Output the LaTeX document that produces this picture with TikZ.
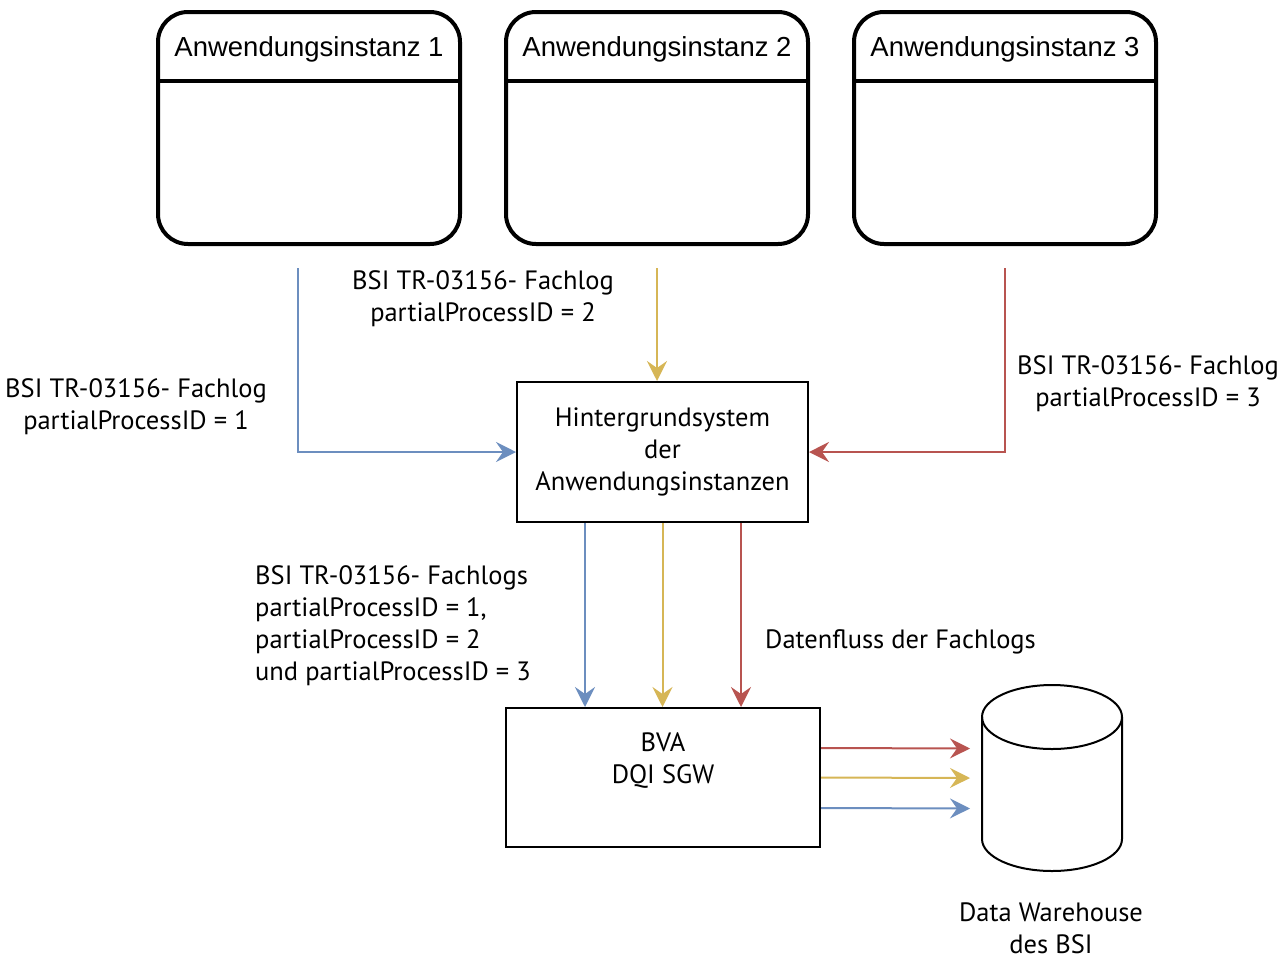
\documentclass[tikz,border=0pt]{standalone}
\usepackage{fontspec}
\setmainfont{PT Sans}
\newfontfamily\arialfont{Liberation Sans}
\usetikzlibrary{positioning}
\usetikzlibrary{arrows.meta}

\definecolor{flowblue}{HTML}{6C8EBF}
\definecolor{flowyellow}{HTML}{D6B656}
\definecolor{flowred}{HTML}{B85450}

\begin{document}
\begin{tikzpicture}
		[x=1pt, y=-1pt,
		 instance/.style={draw=black, line width=4pt, rounded corners=30pt, minimum width=302pt, minimum height=232pt},
		 insttitle/.style={font=\arialfont\fontsize{27.5}{32}\selectfont, inner sep=0pt},
		 system/.style={draw=black, line width=2pt, align=center, font=\fontsize{26.5}{32}\selectfont},
		 label/.style={align=center, font=\fontsize{26.5}{32}\selectfont, inner sep=0pt},
		 flow/.style={line width=2pt, -{Stealth[length=20pt, width=20pt, inset=7pt]}}]
		\useasboundingbox (0,0) rectangle (1285,959);

		\node[instance] (i1) at (309,128) {};
		\node[instance] (i2) at (657,128) {};
		\node[instance] (i3) at (1005,128) {};
		\node[insttitle] (t1) at (309,49) {Anwendungsinstanz 1};
		\node[insttitle] (t2) at (657,49) {Anwendungsinstanz 2};
		\node[insttitle] (t3) at (1005,49) {Anwendungsinstanz 3};
		\draw[line width=4pt] ([yshift=-71pt]i1.north west) -- ([yshift=-71pt]i1.north east);
		\draw[line width=4pt] ([yshift=-71pt]i2.north west) -- ([yshift=-71pt]i2.north east);
		\draw[line width=4pt] ([yshift=-71pt]i3.north west) -- ([yshift=-71pt]i3.north east);

		\node[system, minimum width=291pt, minimum height=140pt] (hg) at (662.5,452) {Hintergrundsystem\\der\\Anwendungsinstanzen};
		\node[system, minimum width=314pt, minimum height=139pt, text depth=38pt] (bva) at (663,777.5) {BVA\\DQI SGW};

		% Data Warehouse
		\coordinate (dw) at (982,778);
		\draw[line width=2pt] (1052,717) ellipse [x radius=70, y radius=32];
		\draw[line width=2pt] (982,717) -- (982,839) arc[start angle=180, end angle=0, x radius=70, y radius=32] -- (1122,717);
		\node[label] (dwl) at (1051,928) {Data Warehouse\\des BSI};

		\coordinate (c1) at (298,268);
		\coordinate (c2) at (657,268);
		\coordinate (c3) at (1005,268);

		\draw[flow, flowblue] (c1) |- (hg.west);
		\draw[flow, flowyellow] (c2) -- (c2 |- hg.north);
		\draw[flow, flowred] (c3) |- (hg.east);

		\draw[flow, flowblue] ([xshift=-77.5pt]hg.south) -- ([xshift=-77.5pt]hg.south |- bva.north);
		\draw[flow, flowyellow] (hg.south) -- (hg.south |- bva.north);
		\draw[flow, flowred] ([xshift=78.5pt]hg.south) -- ([xshift=78.5pt]hg.south |- bva.north);

		\draw[flow, flowred] ([yshift=29.5pt]bva.east) -- ([xshift=-12pt, yshift=29.5pt]dw);
		\draw[flow, flowyellow] (bva.east) -- ([xshift=-12pt]dw);
		\draw[flow, flowblue] ([yshift=-30.5pt]bva.east) -- ([xshift=-12pt, yshift=-30.5pt]dw);

		\node[label] (l2) at (483,299) {BSI TR-03156- Fachlog\\partialProcessID = 2};
		\node[label] (l1) at (136,407) {BSI TR-03156- Fachlog\\partialProcessID = 1};
		\node[label] (l3) at (1148,384) {BSI TR-03156- Fachlog\\partialProcessID = 3};
		\node[label, align=left, anchor=west] (lall) at (255,626) {BSI TR-03156- Fachlogs\\partialProcessID = 1,\\partialProcessID = 2\\und partialProcessID = 3};
		\node[label, anchor=west] (ldf) at (765,642) {Datenfluss der Fachlogs};
	\end{tikzpicture}
\end{document}
